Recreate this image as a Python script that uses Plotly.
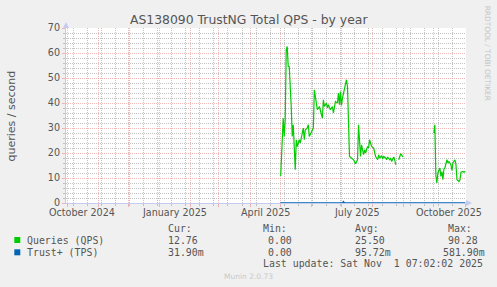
import plotly.graph_objects as go

# ---------------- data ----------------
qps_dates = [
    "2025-05-01 12:00", "2025-05-04", "2025-05-05", "2025-05-06", "2025-05-07", "2025-05-08",
    "2025-05-09", "2025-05-10", "2025-05-12", "2025-05-13", "2025-05-14", "2025-05-16",
    "2025-05-17", "2025-05-18", "2025-05-20", "2025-05-21", "2025-05-22", "2025-05-24",
    "2025-05-25", "2025-05-26", "2025-05-28", "2025-05-29", "2025-05-30",
    "2025-06-02", "2025-06-03", "2025-06-04", "2025-06-05", "2025-06-07", "2025-06-09",
    "2025-06-10", "2025-06-12", "2025-06-13", "2025-06-14", "2025-06-16", "2025-06-17",
    "2025-06-18", "2025-06-20", "2025-06-22", "2025-06-23", "2025-06-25", "2025-06-27",
    "2025-06-28", "2025-06-29", "2025-06-30",
    "2025-07-01", "2025-07-02", "2025-07-04", "2025-07-06", "2025-07-07", "2025-07-09",
    "2025-07-11", "2025-07-13", "2025-07-15", "2025-07-17", "2025-07-18", "2025-07-20",
    "2025-07-21", "2025-07-23", "2025-07-24", "2025-07-25", "2025-07-27", "2025-07-28",
    "2025-07-29", "2025-07-31",
    "2025-08-02", "2025-08-03", "2025-08-04", "2025-08-06", "2025-08-07", "2025-08-08",
    "2025-08-10", "2025-08-11", "2025-08-12", "2025-08-14", "2025-08-15", "2025-08-16",
    "2025-08-18", "2025-08-19", "2025-08-20", "2025-08-22", "2025-08-23", "2025-08-24",
    "2025-08-25", "2025-08-27", "2025-08-29", "2025-08-30", "2025-08-31",
    "2025-09-15",
    "2025-10-01", "2025-10-02", "2025-10-03", "2025-10-04", "2025-10-05", "2025-10-07",
    "2025-10-08", "2025-10-09", "2025-10-10", "2025-10-11", "2025-10-12", "2025-10-14",
    "2025-10-15", "2025-10-16", "2025-10-18", "2025-10-19", "2025-10-20", "2025-10-22",
    "2025-10-23", "2025-10-24", "2025-10-26", "2025-10-27", "2025-10-28", "2025-10-30",
    "2025-10-31", "2025-11-01 07:00",
]
qps_values = [
    10.8, 34, 26.6, 33, 61.3, 62.6,
    54.6, 54.6, 38.6, 26.6, 31.3, 13.3,
    25.3, 22.6, 25.3, 24, 26, 30,
    25.3, 29.3, 30, 31.3, 26.6,
    29.3, 30, 45.3, 42.6, 37.3, 38.6,
    37.3, 34, 41.3, 38.6, 40, 38,
    39.3, 37.3, 38.6, 36, 40.6, 40,
    44, 39.3, 44.6,
    39, 42, 45.3, 49.3, 46.6, 18.6,
    18, 17.3, 15.7, 17.3, 31.3, 18.6,
    23.3, 19.3, 21.3, 20, 22.6, 22,
    25.3, 22.6,
    22, 19.3, 18.6, 17.3, 19.3, 18,
    18.9, 17.6, 18.6, 18, 17.3, 18.4,
    17.3, 18, 16.6, 18.4, 17.3, 15.3,
    None, 17.3, 19.7, 19.2, 18.4,
    None,
    28, 31.3, 11, 8, 12, 14,
    10.6, 12.6, 9.3, 13.6, 14, 17.3,
    16, 16.6, 15.3, 13, 16, 17.3,
    15.3, 9.3, 8.6, 9.3, 12.3, 12.6,
    12.3, 12.76,
]
tps_dates = ["2025-05-01", "2025-07-02", "2025-07-03", "2025-07-04", "2025-11-01 07:00"]
tps_values = [0.06, 0.06, 0.58, 0.06, 0.06]

month_labels = ["October 2024", "January 2025", "April 2025", "July 2025", "October 2025"]
month_label_dates = ["2024-10-16", "2025-01-16", "2025-04-16", "2025-07-16", "2025-10-16"]

legend_names = ["Queries (QPS)", "Trust+ (TPS)"]
legend_colors = ["#00cc00", "#0066b3"]
cur_vals = ["12.76", "31.90m"]
min_vals = ["0.00", "0.00"]
avg_vals = ["25.50", "95.72m"]
max_vals = ["90.28", "581.90m"]

title = "AS138090 TrustNG Total QPS - by year"
y_title = "queries / second"
last_update = "Last update: Sat Nov \u00a01 07:02:02 2025"

# ---------------- layout helpers ----------------
W, H = 497, 287
L, R, T, B = 66, 466, 28, 203


def px(x):
    return (x - L) / (R - L)


def py(y):
    return (B - y) / (B - T)


TXT = "#555555"
SANS = "DejaVu Sans"
MONO = "DejaVu Sans Mono"
MAJ = "rgba(235,140,140,0.6)"
MIN = "rgba(170,170,170,0.7)"
AXC = "#c4cbef"

fig = go.Figure()
fig.add_trace(go.Scatter(x=qps_dates, y=qps_values, mode="lines", name=legend_names[0],
                         line=dict(color=legend_colors[0], width=1.2), connectgaps=False))
fig.add_trace(go.Scatter(x=tps_dates, y=tps_values, mode="lines", name=legend_names[1],
                         line=dict(color=legend_colors[1], width=1.4)))

ann = []
ann.append(dict(x=px(248.5), y=py(19.5), xref="paper", yref="paper", text=title, showarrow=False,
                xanchor="center", yanchor="middle", font=dict(family=SANS, size=12.4, color=TXT)))
ann.append(dict(x=px(11), y=py(115.5), xref="paper", yref="paper", text=y_title, showarrow=False,
                textangle=-90, xanchor="center", yanchor="middle",
                font=dict(family=SANS, size=11, color=TXT)))
ann.append(dict(x=px(488.3), y=py(53), xref="paper", yref="paper", text="RRDTOOL / TOBI OETIKER",
                showarrow=False, textangle=90, xanchor="center", yanchor="middle",
                font=dict(family=SANS, size=7.4, color="#c4c4c4")))
ann.append(dict(x=px(248.5), y=py(276.5), xref="paper", yref="paper", text="Munin 2.0.73",
                showarrow=False, xanchor="center", yanchor="middle",
                font=dict(family=SANS, size=7.5, color="#c8c8c8")))
for d, t in zip(month_label_dates, month_labels):
    ann.append(dict(x=d, y=py(212.5), xref="x", yref="paper", text=t, showarrow=False,
                    xanchor="center", yanchor="middle", font=dict(family=SANS, size=9.6, color=TXT)))


def mono(x, y, t):
    ann.append(dict(x=px(x - 1), y=py(y), xref="paper", yref="paper", text=t, showarrow=False,
                    xanchor="left", yanchor="middle", font=dict(family=MONO, size=9.9, color=TXT)))


mono(167.3, 228.3, "Cur:")
mono(261.7, 228.3, "Min:")
mono(354, 228.3, "Avg:")
mono(446.7, 228.3, "Max:")
rows_y = [240, 252.3]
for i in range(2):
    yy = rows_y[i]
    mono(26, yy, legend_names[i])
    mono(167.3, yy, cur_vals[i])
    mono(267.3, yy, min_vals[i])
    mono(354, yy, avg_vals[i])
    mono(447.3 if i == 0 else 441.7, yy, max_vals[i])
mono(261.7, 263.8, last_update)

shapes = []
for i in range(2):
    yy = rows_y[i]
    shapes.append(dict(type="rect", xref="paper", yref="paper", x0=px(14.3), x1=px(20.3),
                       y0=py(yy - 3), y1=py(yy + 3), fillcolor=legend_colors[i], line=dict(width=0)))
# axis arrows
shapes.append(dict(type="path", xref="paper", yref="paper",
                   path=f"M {px(63)},{py(28)} L {px(69)},{py(28)} L {px(66)},{py(22)} Z",
                   fillcolor=AXC, line=dict(width=0)))
shapes.append(dict(type="path", xref="paper", yref="paper",
                   path=f"M {px(466)},{py(200)} L {px(466)},{py(206)} L {px(472)},{py(203)} Z",
                   fillcolor=AXC, line=dict(width=0)))

fig.update_layout(
    width=W, height=H, autosize=False,
    margin=dict(l=L, r=W - R, t=T, b=H - B, pad=0),
    paper_bgcolor="#f0f0f0", plot_bgcolor="#ffffff",
    showlegend=False,
    annotations=ann, shapes=shapes,
    xaxis=dict(
        type="date", range=["2024-09-29 18:00", "2025-11-02 00:00"],
        tick0="2024-10-01", dtick="M1", showticklabels=False,
        showgrid=True, gridcolor=MAJ, griddash="1px,1px", gridwidth=1,
        ticks="outside", ticklen=3, tickcolor=MAJ,
        minor=dict(dtick=14 * 86400000, tick0="2024-10-07", showgrid=True, gridcolor=MIN,
                   griddash="1px,1px", ticks="outside", ticklen=2, tickcolor=MIN),
        showline=True, linecolor=AXC, linewidth=1, zeroline=False, layer="below traces",
        fixedrange=True,
    ),
    yaxis=dict(
        range=[0, 70], tick0=0, dtick=10,
        showgrid=True, gridcolor=MAJ, griddash="1px,1px", gridwidth=1,
        ticks="outside", ticklen=3, tickcolor=MAJ,
        tickfont=dict(family=SANS, size=9.6, color=TXT),
        minor=dict(dtick=2, showgrid=True, gridcolor=MIN, griddash="1px,1px",
                   ticks="outside", ticklen=2, tickcolor=MIN),
        showline=True, linecolor=AXC, linewidth=1, zeroline=False, layer="below traces",
        fixedrange=True,
    ),
)

fig.write_html("out.html", config={"displayModeBar": False})
